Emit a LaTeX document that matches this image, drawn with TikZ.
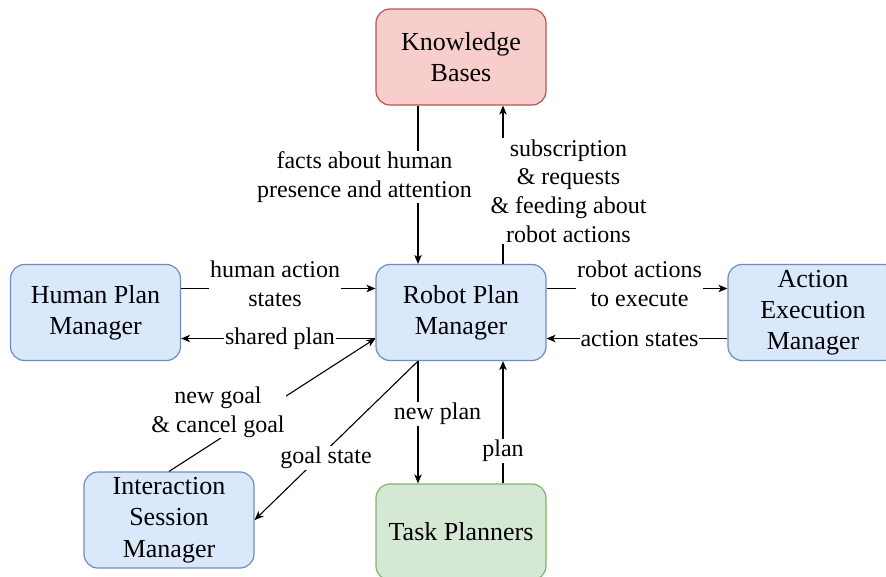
\documentclass[tikz,border=0pt]{standalone}
\usepackage{fontspec}
\setmainfont{Liberation Serif}
\usetikzlibrary{arrows.meta,calc}
\definecolor{bluefill}{HTML}{DAE8FC}
\definecolor{blueline}{HTML}{6C8EBF}
\definecolor{redfill}{HTML}{F8CECC}
\definecolor{redline}{HTML}{B85450}
\definecolor{greenfill}{HTML}{D5E8D4}
\definecolor{greenline}{HTML}{82B366}
\begin{document}
\begin{tikzpicture}[x=1pt,y=-1pt,
  box/.style={rounded corners=14pt, minimum width=170pt, minimum height=96pt, inner sep=0pt, align=center, font=\rmfamily\fontsize{26}{31.2}\selectfont, line width=1.2pt},
  bluebox/.style={box, fill=bluefill, draw=blueline},
  redbox/.style={box, fill=redfill, draw=redline},
  greenbox/.style={box, fill=greenfill, draw=greenline},
  lbl/.style={fill=white, inner sep=1pt, align=center, font=\rmfamily\fontsize{24}{28.8}\selectfont},
  conn/.style={line width=1.1pt, -{Stealth[length=9pt,width=7.5pt,inset=2.5pt]}}
]
\useasboundingbox (0,0) rectangle (886,576);
\clip (0,0) rectangle (886,576);
\fill[white] (0,0) rectangle (886,576);

\node[redbox] (kb) at (461,57) {Knowledge\\Bases};
\node[bluebox] (rpm) at (461,312.5) {Robot Plan\\Manager};
\node[bluebox] (hpm) at (95.5,312.5) {Human Plan\\Manager};
\node[bluebox] (aem) at (813,312.5) {Action\\Execution\\Manager};
\node[bluebox] (ism) at (169,520) {Interaction\\Session\\Manager};
\node[greenbox] (tp) at (461,532) {Task Planners};

\draw[conn] ([xshift=-43pt]kb.south) -- ([xshift=-43pt]rpm.north);
\draw[conn] ([xshift=42pt]rpm.north) -- ([xshift=42pt]kb.south);
\draw[conn] ([yshift=24pt]hpm.east) -- ([yshift=24pt]rpm.west);
\draw[conn] ([yshift=-26pt]rpm.west) -- ([yshift=-26pt]hpm.east);
\draw[conn] ([yshift=24pt]rpm.east) -- ([yshift=24pt]aem.west);
\draw[conn] ([yshift=-26pt]aem.west) -- ([yshift=-26pt]rpm.east);
\draw[conn] (ism.north) -- ([yshift=-26pt]rpm.west);
\draw[conn] ([xshift=-43pt]rpm.south) -- (ism.east);
\draw[conn] ([xshift=-43pt]rpm.south) -- ([xshift=-43pt]tp.north);
\draw[conn] ([xshift=42pt]tp.north) -- ([xshift=42pt]rpm.south);

\node[lbl] (l1) at (364.5,177) {facts about human\\presence and attention};
\node[lbl] (l2) at (568.5,191) {subscription\\\& requests\\\& feeding about\\robot actions};
\node[lbl] (l3) at (275,283.5) {human action\\states};
\node[lbl] (l4) at (280,339) {shared plan};
\node[lbl] (l5) at (639.5,283.5) {robot actions\\to execute};
\node[lbl] (l6) at (639.5,339) {action states};
\node[lbl] (l7) at (218,412) {new goal\\\& cancel goal};
\node[lbl] (l8) at (326,458) {goal state};
\node[lbl] (l9) at (437.5,414) {new plan};
\node[lbl] (l10) at (503,451) {plan};
\end{tikzpicture}
\end{document}
